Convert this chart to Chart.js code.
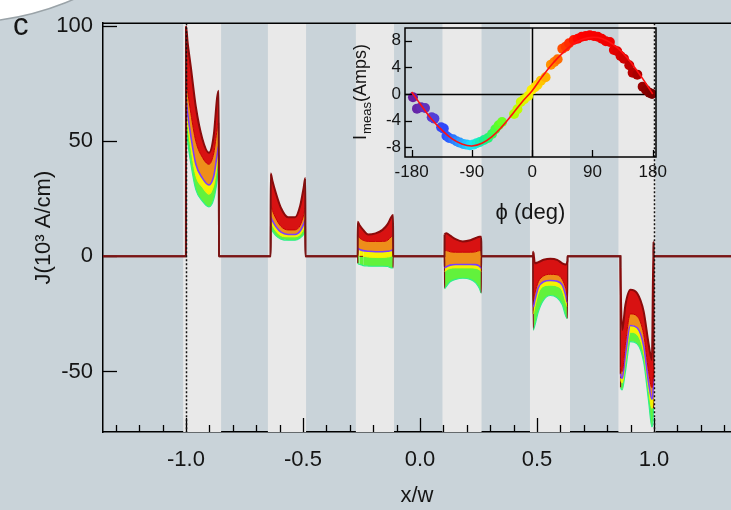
<!DOCTYPE html>
<html><head><meta charset="utf-8">
<script src="https://cdn.jsdelivr.net/npm/chart.js@4.4.0/dist/chart.umd.min.js"></script>
<style>
html,body{margin:0;padding:0;background:#c9d3d9;}
#wrap{position:relative;width:731px;height:510px;overflow:hidden;background:#c9d3d9;}
#wrap canvas{position:absolute;left:0;top:0;}
</style></head><body>
<div id="wrap"><canvas id="main" width="731" height="510"></canvas><canvas id="inset" width="731" height="510"></canvas></div>
<script>
// ---------------- DATA (main panel) ----------------
const xTickVals = [-1, -0.5, 0, 0.5, 1];
const yTickVals = [-50, 0, 50, 100];
// six strips: sample positions x/w across each strip
const stripX = [
  [-1.0, -0.993, -0.979, -0.958, -0.930, -0.902, -0.881, -0.867, -0.86],
  [-0.638, -0.631, -0.616, -0.594, -0.564, -0.534, -0.512, -0.497, -0.49],
  [-0.266, -0.258, -0.243, -0.221, -0.19, -0.16, -0.138, -0.123, -0.115],
  [0.105, 0.113, 0.129, 0.152, 0.183, 0.215, 0.238, 0.254, 0.262],
  [0.484, 0.491, 0.506, 0.528, 0.557, 0.586, 0.608, 0.623, 0.63],
  [0.857, 0.864, 0.878, 0.899, 0.928, 0.956, 0.977, 0.991, 0.998]
];
// grey strip regions (x/w)
const bandL = [-1.012, -0.65, -0.274, 0.096, 0.47, 0.848];
const bandR = [-0.85, -0.487, -0.111, 0.263, 0.641, 1.007];
// J (10^3 A/cm) envelopes, top (largest current) to bottom
const jTop = [
  [100, 93, 82, 65, 51, 45, 53, 69, 72],
  [36, 33, 27.5, 21, 17, 17, 22, 30, 34],
  [15, 13.5, 11.5, 9.5, 10, 11.5, 14, 17, 18],
  [9.5, 10, 9, 7.5, 6.5, 7, 8, 8.5, 8.5],
  [2, -3, -2.5, -1.5, -1, -1.5, -3, -3.5, -2],
  [-5, -32, -21, -14.5, -16, -24, -38, -45, 6.5]
];
const jRed = [
  [78, 72, 62, 50, 43, 40, 45, 55, 58],
  [22, 20, 16.5, 13, 11.5, 11.5, 13.5, 18, 21],
  [9, 8, 7, 6.5, 6.5, 6.5, 7, 8.5, 9],
  [2.5, 2.5, 2, 1.8, 1.8, 1.8, 2, 2.5, 2.5],
  [-19, -16, -11, -8.5, -7.8, -8, -10, -14, -17],
  [-48, -50, -38, -25, -26, -34, -50, -57, -48]
];
const jOrange = [
  [68, 62, 52, 40, 34, 31, 35, 44, 48],
  [17, 15.5, 13, 10.5, 9.5, 9.5, 11, 14, 16],
  [3.5, 3, 2.5, 2.2, 2, 2, 2.2, 2.5, 3],
  [-5, -4.5, -3.8, -3.5, -3.5, -3.5, -3.6, -4.2, -5],
  [-22, -19, -13.5, -11, -10.5, -10.8, -12.5, -17, -20],
  [-51, -53, -43, -30, -31, -39, -55, -62, -53]
];
const jYellow = [
  [63, 57, 47, 35, 30, 27, 31, 39, 44],
  [15, 13.5, 11, 9, 8.5, 8.5, 9.5, 12, 14],
  [0.5, 0, 0, -0.3, -0.5, -0.5, -0.3, 0, 0.5],
  [-6.5, -6, -5.2, -5, -5, -5, -5.2, -5.8, -6.5],
  [-25, -22, -16, -13, -12.5, -13, -15, -20, -22],
  [-53, -55, -46, -33, -34, -42, -58, -66, -58]
];
const jGreen = [
  [58, 50, 40, 29, 24, 21.5, 25, 33, 40],
  [12, 11, 9, 7.5, 7, 7, 8, 9.5, 11],
  [-3, -3.5, -4, -4.2, -4.3, -4.3, -4.4, -5, -5],
  [-14, -13, -11, -10, -9.5, -10, -11.5, -14, -16],
  [-32, -30, -24, -19, -17, -18, -21, -26, -27],
  [-57, -58, -50, -37, -38, -46, -63, -74, -66]
];
// ---------------- DATA (inset) ----------------
const phiTickVals = [-180, -90, 0, 90, 180];
const iTickVals = [-8, -4, 0, 4, 8];
const phiPts = [-178,-172,-166,-160,-150,-146,-136,-132,-128,-124,-118,-113,-108,-103,-98,-93,-88,-83,-78,-72,-66,-60,-55,-50,-45,-27,-22,-17,-12,-6,-1,4,8,13,20,28,33,38,45,50,55,62,68,74,80,86,92,98,104,110,116,122,127,132,137,145,150,157,165,170,175,179];
const iPts = [-0.5,-2.2,-2.0,-2.1,-3.5,-3.7,-5.0,-5.2,-6.3,-6.6,-6.8,-7.1,-7.3,-7.5,-7.6,-7.7,-7.6,-7.4,-7.2,-6.9,-6.6,-6.0,-5.3,-4.7,-4.2,-3.0,-2.3,-1.2,-0.8,-0.3,0.6,1.0,1.4,2.0,2.5,4.4,4.8,5.2,6.8,7.1,7.6,8.1,8.3,8.6,8.7,8.8,8.7,8.6,8.3,7.9,7.8,6.6,6.4,5.7,5.3,4.3,3.2,2.9,1.1,0.6,0.2,0.0];
const fitPhi = [-180,-165,-150,-135,-120,-105,-90,-75,-60,-45,-30,-15,0,15,30,45,60,75,90,105,120,135,150,165,180];
const fitI = [0.3,-1.8,-3.8,-5.4,-6.7,-7.5,-7.8,-7.4,-6.4,-4.9,-3.1,-1.2,0.5,2.6,4.5,6.1,7.4,8.2,8.5,8.3,7.5,6.2,4.4,2.3,0.0];

// ---------------- styling / helpers ----------------
const FONT = "'Liberation Sans', Arial, sans-serif";
Chart.defaults.font.family = FONT;
const TXT = '#151515';
const X_MIN = -1.3547, X_MAX = 1.3291, Y_MIN = -76.3, Y_MAX = 101.3;
const EPS = 0.0004;
const EDGE = '#7a1414';

function buildCurve(vals) {
  const pts = [{x: X_MIN, y: 0}];
  stripX.forEach((xs, s) => {
    pts.push({x: xs[0] - EPS, y: 0});
    xs.forEach((x, i) => pts.push({x: x, y: vals[s][i]}));
    pts.push({x: xs[xs.length - 1] + EPS, y: 0});
  });
  pts.push({x: X_MAX, y: 0});
  return pts;
}
function edgeSeg(ctx) {
  const a = ctx.p0.parsed, b = ctx.p1.parsed;
  if (Math.abs(a.x - b.x) < 0.001 || (a.y === 0 && b.y === 0)) return EDGE;
  return undefined;
}
function curveDs(vals, border, bw, fill, bg) {
  return {
    data: buildCurve(vals), borderColor: border, borderWidth: bw,
    backgroundColor: bg || 'transparent', fill: fill,
    pointRadius: 0, cubicInterpolationMode: 'monotone',
    segment: {borderColor: edgeSeg}
  };
}

const mainPlugin = {
  id: 'mainDeco',
  beforeDatasetsDraw(chart) {
    const {ctx, chartArea: a, scales: {x, y}} = chart;
    ctx.save();
    ctx.fillStyle = '#e9e9e9';
    bandL.forEach((l, i) => {
      const x0 = x.getPixelForValue(l), x1 = x.getPixelForValue(bandR[i]);
      ctx.fillRect(x0, a.top, x1 - x0, a.bottom - a.top);
    });
    // inward ticks
    ctx.strokeStyle = '#000'; ctx.lineWidth = 1.3;
    for (let k = -13; k <= 13; k++) {
      const v = k / 10;
      const px = Math.round(x.getPixelForValue(v)) + 0.5;
      const len = (k % 5 === 0) ? 14 : 7;
      ctx.beginPath(); ctx.moveTo(px, a.bottom); ctx.lineTo(px, a.bottom - len); ctx.stroke();
    }
    yTickVals.forEach(v => {
      const py = Math.round(y.getPixelForValue(v)) + 0.5;
      ctx.beginPath(); ctx.moveTo(a.left, py); ctx.lineTo(a.left + 14, py); ctx.stroke();
    });
    ctx.restore();
  },
  afterDatasetsDraw(chart) {
    const {ctx, chartArea: a, scales: {x}} = chart;
    ctx.save();
    ctx.strokeStyle = '#111'; ctx.lineWidth = 1.5; ctx.setLineDash([2, 2]);
    [-1, 1].forEach(v => {
      const px = Math.round(x.getPixelForValue(v)) + 0.5;
      ctx.beginPath(); ctx.moveTo(px, a.top); ctx.lineTo(px, a.bottom); ctx.stroke();
    });
    ctx.setLineDash([]);
    ctx.lineWidth = 1.5; ctx.strokeStyle = '#000';
    ctx.beginPath(); ctx.moveTo(a.left, a.top); ctx.lineTo(a.right, a.top); ctx.stroke();
    ctx.restore();
  },
  afterDraw(chart) {
    const ctx = chart.ctx;
    ctx.save();
    ctx.fillStyle = '#ffffff'; ctx.strokeStyle = '#9aa3a8'; ctx.lineWidth = 1.5;
    ctx.beginPath(); ctx.arc(-40, -263.6, 286.4, 0, Math.PI * 2); ctx.fill(); ctx.stroke();
    ctx.fillStyle = TXT; ctx.font = '31px ' + FONT; ctx.textBaseline = 'alphabetic';
    ctx.fillText('c', 13, 35);
    ctx.restore();
  }
};

new Chart(document.getElementById('main'), {
  type: 'line',
  data: {
    datasets: [
      curveDs(jTop, '#8a0b0b', 2, false),
      curveDs(jRed, '#c80000', 1, '-1', '#d81212'),
      curveDs(jOrange, '#7b3cff', 1.6, '-1', '#ee8e1a'),
      curveDs(jYellow, '#eef000', 1, '-1', '#f6f200'),
      curveDs(jGreen, '#2ef08a', 1.2, '-1', '#62f23c')
    ]
  },
  options: {
    responsive: false, animation: false, devicePixelRatio: 1,
    layout: {padding: {left: 0, top: 20, right: 0, bottom: 0}},
    plugins: {legend: {display: false}, tooltip: {enabled: false}},
    scales: {
      x: {
        type: 'linear', min: X_MIN, max: X_MAX,
        afterBuildTicks: s => { s.ticks = xTickVals.map(v => ({value: v})); },
        afterFit: s => { s.height = 78; },
        ticks: {callback: v => Number(v).toFixed(1), font: {size: 22}, color: TXT, padding: 15, maxRotation: 0, autoSkip: false},
        grid: {display: false, drawTicks: false},
        border: {display: true, color: '#000', width: 1.5},
        title: {display: true, text: 'x/w', font: {size: 22}, color: TXT, padding: {top: 0, bottom: 1}}
      },
      y: {
        type: 'linear', min: Y_MIN, max: Y_MAX,
        afterBuildTicks: s => { s.ticks = yTickVals.map(v => ({value: v})); },
        afterFit: s => { s.width = 103; },
        ticks: {font: {size: 22}, color: TXT, padding: 10},
        grid: {display: false, drawTicks: false},
        border: {display: true, color: '#000', width: 1.5},
        title: {display: true, text: 'J(10³ A/cm)', font: {size: 22}, color: TXT, padding: {top: 31, bottom: 0}}
      }
    }
  },
  plugins: [mainPlugin]
});

// ---------------- inset ----------------
const hueStops = [[-180,[106,27,154]],[-150,[91,63,208]],[-130,[42,75,255]],[-110,[47,143,255]],[-90,[25,230,255]],[-70,[23,240,138]],[-50,[92,255,42]],[-25,[184,255,0]],[0,[255,240,0]],[20,[255,176,0]],[35,[255,122,0]],[50,[255,58,0]],[70,[255,0,0]],[120,[238,0,0]],[150,[184,0,0]],[180,[122,0,0]]];
function phiColor(p) {
  for (let i = 0; i < hueStops.length - 1; i++) {
    const [p0, c0] = hueStops[i], [p1, c1] = hueStops[i + 1];
    if (p >= p0 && p <= p1) {
      const t = (p - p0) / (p1 - p0);
      const c = c0.map((v, k) => Math.round(v + (c1[k] - v) * t));
      return 'rgb(' + c.join(',') + ')';
    }
  }
  return 'rgb(122,0,0)';
}

const insetPlugin = {
  id: 'insetDeco',
  beforeDatasetsDraw(chart) {
    const {ctx, chartArea: a, scales: {x, y}} = chart;
    ctx.save(); ctx.strokeStyle = '#000'; ctx.lineWidth = 1.5;
    const px = Math.round(x.getPixelForValue(0)) + 0.5, py = Math.round(y.getPixelForValue(0)) + 0.5;
    ctx.beginPath(); ctx.moveTo(a.left, py); ctx.lineTo(a.right, py); ctx.stroke();
    ctx.beginPath(); ctx.moveTo(px, a.top); ctx.lineTo(px, a.bottom); ctx.stroke();
    ctx.restore();
  },
  afterDraw(chart) {
    const {ctx, chartArea: a, scales: {x, y}} = chart;
    ctx.save(); ctx.strokeStyle = '#000'; ctx.lineWidth = 1.5;
    ctx.strokeRect(a.left, a.top, a.right - a.left, a.bottom - a.top);
    ctx.lineWidth = 1.3;
    phiTickVals.forEach(v => {
      const px = Math.round(x.getPixelForValue(v)) + 0.5;
      ctx.beginPath(); ctx.moveTo(px, a.bottom); ctx.lineTo(px, a.bottom - 7); ctx.stroke();
    });
    iTickVals.forEach(v => {
      const py = Math.round(y.getPixelForValue(v)) + 0.5;
      ctx.beginPath(); ctx.moveTo(a.left, py); ctx.lineTo(a.left + 7, py); ctx.stroke();
    });
    ctx.fillStyle = TXT; ctx.textBaseline = 'alphabetic';
    ctx.translate(366, (a.top + a.bottom) / 2); ctx.rotate(-Math.PI / 2);
    const fBig = '18px ' + FONT, fSub = '13px ' + FONT;
    ctx.font = fBig; const wI = ctx.measureText('I').width, wA = ctx.measureText('(Amps)').width;
    ctx.font = fSub; const wM = ctx.measureText('meas').width;
    let sx = -(wI + wM + wA) / 2;
    ctx.font = fBig; ctx.fillText('I', sx, 0); sx += wI + 1;
    ctx.font = fSub; ctx.fillText('meas', sx, 5); sx += wM;
    ctx.font = fBig; ctx.fillText('(Amps)', sx, 0);
    ctx.restore();
  }
};

new Chart(document.getElementById('inset'), {
  type: 'scatter',
  data: {
    datasets: [
      {data: fitPhi.map((p, i) => ({x: p, y: fitI[i]})), showLine: true, borderColor: '#ff1010', borderWidth: 1.6, pointRadius: 0, tension: 0.4},
      {data: phiPts.map((p, i) => ({x: p, y: iPts[i]})), pointRadius: 5, pointBorderWidth: 0,
       pointBackgroundColor: phiPts.map(phiColor), backgroundColor: phiPts.map(phiColor)}
    ]
  },
  options: {
    responsive: false, animation: false, devicePixelRatio: 1,
    layout: {padding: {left: 360, top: 28, right: 75, bottom: 283}},
    plugins: {legend: {display: false}, tooltip: {enabled: false}},
    scales: {
      x: {
        type: 'linear', min: -189.9, max: 184.9,
        afterBuildTicks: s => { s.ticks = phiTickVals.map(v => ({value: v})); },
        afterFit: s => { s.height = 70; },
        ticks: {font: {size: 17}, color: TXT, padding: 5, maxRotation: 0, autoSkip: false},
        grid: {display: false, drawTicks: false}, border: {display: false},
        title: {display: true, text: 'ϕ (deg)', font: {size: 22}, color: TXT, padding: {top: 0, bottom: 1}}
      },
      y: {
        type: 'linear', min: -9.46, max: 9.9,
        afterBuildTicks: s => { s.ticks = iTickVals.map(v => ({value: v})); },
        afterFit: s => { s.width = 45; },
        ticks: {font: {size: 17}, color: TXT, padding: 4},
        grid: {display: false, drawTicks: false}, border: {display: false}
      }
    }
  },
  plugins: [insetPlugin]
});
</script>
</body></html>
